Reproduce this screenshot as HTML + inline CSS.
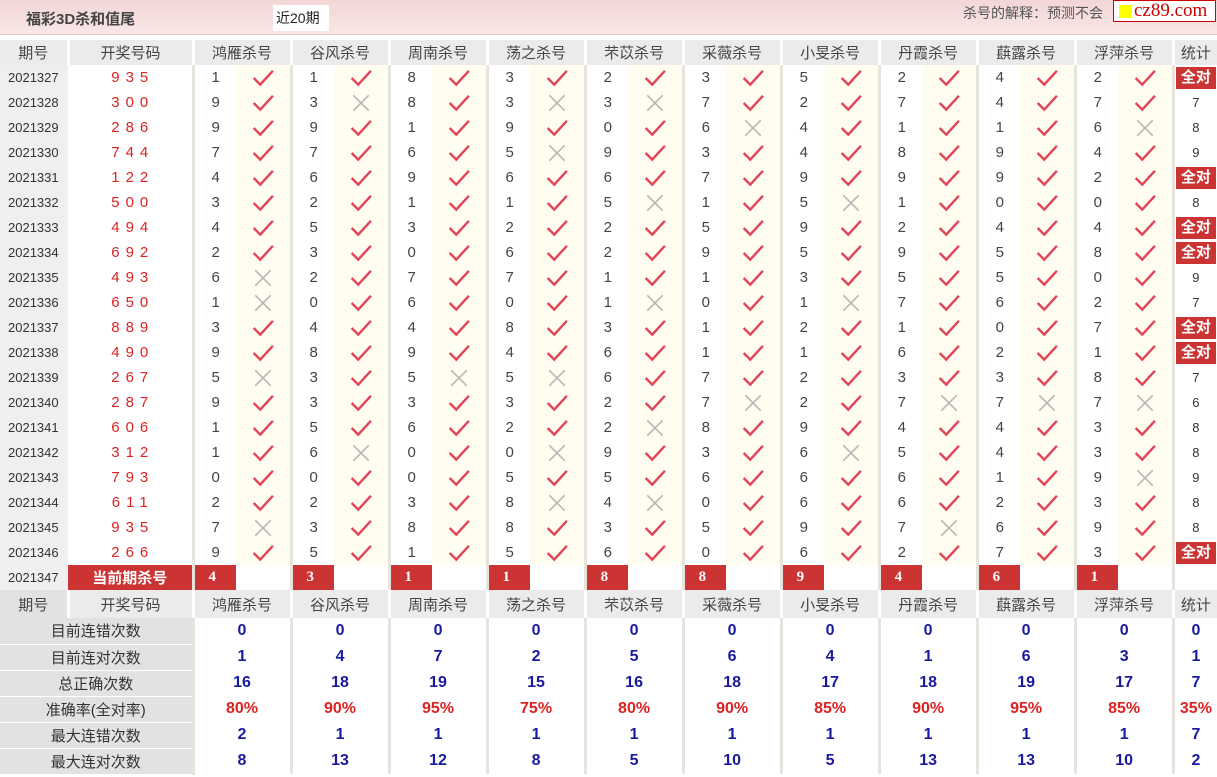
<!DOCTYPE html>
<html><head><meta charset="utf-8">
<style>
*{margin:0;padding:0;box-sizing:border-box}
body{width:1217px;height:777px;background:#fff;font-family:"Liberation Sans","Noto Sans CJK SC",sans-serif;position:relative;overflow:hidden}
.top{position:absolute;left:0;top:0;width:1217px;height:35px;background:linear-gradient(#f3d6d6,#f8e6e6);border-bottom:1px solid #e8c8c8}
.title{position:absolute;left:26px;top:8px;font-size:15px;font-weight:bold;color:#444}
.tab{position:absolute;left:273px;top:5px;width:56px;height:26px;background:#fff;font-size:14px;line-height:26px;padding-left:3px;color:#222}
.exp{position:absolute;left:963px;top:3px;font-size:14px;color:#555}
.logo{position:absolute;left:1113px;top:0;width:103px;height:22px;border:1px solid #c00;background:#fff;font-family:"Liberation Serif",serif;font-size:19px;color:#c00;line-height:19px;padding-left:20px}
.logo i{position:absolute;left:5px;top:4px;width:13px;height:13px;background:#ff0}
table{position:absolute;left:0;top:40px;border-collapse:collapse;table-layout:fixed;width:1217px}
td{padding:0;height:25px;font-size:14px;white-space:nowrap;overflow:hidden}
tr.h td{background:#ebebeb;color:#444;text-align:center;font-size:15px;border-left:3px solid #fff}
tr.h2 td{height:28px}
td.p{background:#efefef;color:#333;padding-left:8px;font-size:13px}
td.d{color:#d22;text-align:center;letter-spacing:6px;font-size:15px;padding-left:6px}
td.n{color:#444;padding-left:17px;border-left:3px solid #e6e4dc;font-size:15px}
td.c{background:#fffdef;text-align:center}
td.c svg{width:22px;height:18px;vertical-align:middle}
td.s{text-align:center;border-left:3px solid #e6e4dc;color:#333;font-size:13px}
td.s b{display:block;margin:1px;background:#cc3333;color:#fff;font-size:15px;line-height:22px}
td.r{border-left:3px solid #e6e4dc}
td.r b{display:block;height:25px;background:#cc3333;color:#fff;font-family:"Liberation Serif",serif;font-size:15px;padding-left:14px;line-height:25px}
td.cl{background:#cc3333;color:#fff;font-weight:bold;text-align:center;font-size:15px}
tr.st td{height:26px;text-align:center;font-weight:bold;color:#1a1aa0;font-size:16px;border-left:3px solid #e6e4dc}
tr.st td.l{background:#e2e2e2;color:#333;font-weight:normal;font-size:15px;border-left:none;border-bottom:1px solid #fff}
tr.st td.rd{color:#d22}
</style></head><body>
<div class="top"><div class="title">福彩3D杀和值尾</div><div class="tab">近20期</div><div class="exp">杀号的解释：预测不会</div><div class="logo"><i></i>cz89.com</div></div>
<svg width="0" height="0" style="position:absolute"><defs>
<symbol id="y" viewBox="0 0 20 16"><path d="M1.5 8 L7.5 14 L19 1.5" stroke="#e0455a" stroke-width="2.2" fill="none"/></symbol>
<symbol id="x" viewBox="0 0 20 16"><path d="M3 1 L17 15 M17 1 L3 15" stroke="#b8b8b8" stroke-width="1.5" fill="none"/></symbol>
</defs></svg>
<table>
<colgroup><col style="width:68px"><col style="width:125px"><col style="width:43px"><col style="width:55px"><col style="width:43px"><col style="width:55px"><col style="width:43px"><col style="width:55px"><col style="width:43px"><col style="width:55px"><col style="width:43px"><col style="width:55px"><col style="width:43px"><col style="width:55px"><col style="width:43px"><col style="width:55px"><col style="width:43px"><col style="width:55px"><col style="width:43px"><col style="width:55px"><col style="width:43px"><col style="width:55px"><col style="width:44px"></colgroup>
<tr class="h"><td style="border-left:none">期号</td><td>开奖号码</td><td colspan="2">鸿雁杀号</td><td colspan="2">谷风杀号</td><td colspan="2">周南杀号</td><td colspan="2">荡之杀号</td><td colspan="2">芣苡杀号</td><td colspan="2">采薇杀号</td><td colspan="2">小旻杀号</td><td colspan="2">丹霞杀号</td><td colspan="2">蕻露杀号</td><td colspan="2">浮萍杀号</td><td>统计</td></tr>
<tr><td class="p">2021327</td><td class="d">935</td><td class="n">1</td><td class="c"><svg><use href="#y"/></svg></td><td class="n">1</td><td class="c"><svg><use href="#y"/></svg></td><td class="n">8</td><td class="c"><svg><use href="#y"/></svg></td><td class="n">3</td><td class="c"><svg><use href="#y"/></svg></td><td class="n">2</td><td class="c"><svg><use href="#y"/></svg></td><td class="n">3</td><td class="c"><svg><use href="#y"/></svg></td><td class="n">5</td><td class="c"><svg><use href="#y"/></svg></td><td class="n">2</td><td class="c"><svg><use href="#y"/></svg></td><td class="n">4</td><td class="c"><svg><use href="#y"/></svg></td><td class="n">2</td><td class="c"><svg><use href="#y"/></svg></td><td class="s"><b>全对</b></td></tr>
<tr><td class="p">2021328</td><td class="d">300</td><td class="n">9</td><td class="c"><svg><use href="#y"/></svg></td><td class="n">3</td><td class="c"><svg><use href="#x"/></svg></td><td class="n">8</td><td class="c"><svg><use href="#y"/></svg></td><td class="n">3</td><td class="c"><svg><use href="#x"/></svg></td><td class="n">3</td><td class="c"><svg><use href="#x"/></svg></td><td class="n">7</td><td class="c"><svg><use href="#y"/></svg></td><td class="n">2</td><td class="c"><svg><use href="#y"/></svg></td><td class="n">7</td><td class="c"><svg><use href="#y"/></svg></td><td class="n">4</td><td class="c"><svg><use href="#y"/></svg></td><td class="n">7</td><td class="c"><svg><use href="#y"/></svg></td><td class="s">7</td></tr>
<tr><td class="p">2021329</td><td class="d">286</td><td class="n">9</td><td class="c"><svg><use href="#y"/></svg></td><td class="n">9</td><td class="c"><svg><use href="#y"/></svg></td><td class="n">1</td><td class="c"><svg><use href="#y"/></svg></td><td class="n">9</td><td class="c"><svg><use href="#y"/></svg></td><td class="n">0</td><td class="c"><svg><use href="#y"/></svg></td><td class="n">6</td><td class="c"><svg><use href="#x"/></svg></td><td class="n">4</td><td class="c"><svg><use href="#y"/></svg></td><td class="n">1</td><td class="c"><svg><use href="#y"/></svg></td><td class="n">1</td><td class="c"><svg><use href="#y"/></svg></td><td class="n">6</td><td class="c"><svg><use href="#x"/></svg></td><td class="s">8</td></tr>
<tr><td class="p">2021330</td><td class="d">744</td><td class="n">7</td><td class="c"><svg><use href="#y"/></svg></td><td class="n">7</td><td class="c"><svg><use href="#y"/></svg></td><td class="n">6</td><td class="c"><svg><use href="#y"/></svg></td><td class="n">5</td><td class="c"><svg><use href="#x"/></svg></td><td class="n">9</td><td class="c"><svg><use href="#y"/></svg></td><td class="n">3</td><td class="c"><svg><use href="#y"/></svg></td><td class="n">4</td><td class="c"><svg><use href="#y"/></svg></td><td class="n">8</td><td class="c"><svg><use href="#y"/></svg></td><td class="n">9</td><td class="c"><svg><use href="#y"/></svg></td><td class="n">4</td><td class="c"><svg><use href="#y"/></svg></td><td class="s">9</td></tr>
<tr><td class="p">2021331</td><td class="d">122</td><td class="n">4</td><td class="c"><svg><use href="#y"/></svg></td><td class="n">6</td><td class="c"><svg><use href="#y"/></svg></td><td class="n">9</td><td class="c"><svg><use href="#y"/></svg></td><td class="n">6</td><td class="c"><svg><use href="#y"/></svg></td><td class="n">6</td><td class="c"><svg><use href="#y"/></svg></td><td class="n">7</td><td class="c"><svg><use href="#y"/></svg></td><td class="n">9</td><td class="c"><svg><use href="#y"/></svg></td><td class="n">9</td><td class="c"><svg><use href="#y"/></svg></td><td class="n">9</td><td class="c"><svg><use href="#y"/></svg></td><td class="n">2</td><td class="c"><svg><use href="#y"/></svg></td><td class="s"><b>全对</b></td></tr>
<tr><td class="p">2021332</td><td class="d">500</td><td class="n">3</td><td class="c"><svg><use href="#y"/></svg></td><td class="n">2</td><td class="c"><svg><use href="#y"/></svg></td><td class="n">1</td><td class="c"><svg><use href="#y"/></svg></td><td class="n">1</td><td class="c"><svg><use href="#y"/></svg></td><td class="n">5</td><td class="c"><svg><use href="#x"/></svg></td><td class="n">1</td><td class="c"><svg><use href="#y"/></svg></td><td class="n">5</td><td class="c"><svg><use href="#x"/></svg></td><td class="n">1</td><td class="c"><svg><use href="#y"/></svg></td><td class="n">0</td><td class="c"><svg><use href="#y"/></svg></td><td class="n">0</td><td class="c"><svg><use href="#y"/></svg></td><td class="s">8</td></tr>
<tr><td class="p">2021333</td><td class="d">494</td><td class="n">4</td><td class="c"><svg><use href="#y"/></svg></td><td class="n">5</td><td class="c"><svg><use href="#y"/></svg></td><td class="n">3</td><td class="c"><svg><use href="#y"/></svg></td><td class="n">2</td><td class="c"><svg><use href="#y"/></svg></td><td class="n">2</td><td class="c"><svg><use href="#y"/></svg></td><td class="n">5</td><td class="c"><svg><use href="#y"/></svg></td><td class="n">9</td><td class="c"><svg><use href="#y"/></svg></td><td class="n">2</td><td class="c"><svg><use href="#y"/></svg></td><td class="n">4</td><td class="c"><svg><use href="#y"/></svg></td><td class="n">4</td><td class="c"><svg><use href="#y"/></svg></td><td class="s"><b>全对</b></td></tr>
<tr><td class="p">2021334</td><td class="d">692</td><td class="n">2</td><td class="c"><svg><use href="#y"/></svg></td><td class="n">3</td><td class="c"><svg><use href="#y"/></svg></td><td class="n">0</td><td class="c"><svg><use href="#y"/></svg></td><td class="n">6</td><td class="c"><svg><use href="#y"/></svg></td><td class="n">2</td><td class="c"><svg><use href="#y"/></svg></td><td class="n">9</td><td class="c"><svg><use href="#y"/></svg></td><td class="n">5</td><td class="c"><svg><use href="#y"/></svg></td><td class="n">9</td><td class="c"><svg><use href="#y"/></svg></td><td class="n">5</td><td class="c"><svg><use href="#y"/></svg></td><td class="n">8</td><td class="c"><svg><use href="#y"/></svg></td><td class="s"><b>全对</b></td></tr>
<tr><td class="p">2021335</td><td class="d">493</td><td class="n">6</td><td class="c"><svg><use href="#x"/></svg></td><td class="n">2</td><td class="c"><svg><use href="#y"/></svg></td><td class="n">7</td><td class="c"><svg><use href="#y"/></svg></td><td class="n">7</td><td class="c"><svg><use href="#y"/></svg></td><td class="n">1</td><td class="c"><svg><use href="#y"/></svg></td><td class="n">1</td><td class="c"><svg><use href="#y"/></svg></td><td class="n">3</td><td class="c"><svg><use href="#y"/></svg></td><td class="n">5</td><td class="c"><svg><use href="#y"/></svg></td><td class="n">5</td><td class="c"><svg><use href="#y"/></svg></td><td class="n">0</td><td class="c"><svg><use href="#y"/></svg></td><td class="s">9</td></tr>
<tr><td class="p">2021336</td><td class="d">650</td><td class="n">1</td><td class="c"><svg><use href="#x"/></svg></td><td class="n">0</td><td class="c"><svg><use href="#y"/></svg></td><td class="n">6</td><td class="c"><svg><use href="#y"/></svg></td><td class="n">0</td><td class="c"><svg><use href="#y"/></svg></td><td class="n">1</td><td class="c"><svg><use href="#x"/></svg></td><td class="n">0</td><td class="c"><svg><use href="#y"/></svg></td><td class="n">1</td><td class="c"><svg><use href="#x"/></svg></td><td class="n">7</td><td class="c"><svg><use href="#y"/></svg></td><td class="n">6</td><td class="c"><svg><use href="#y"/></svg></td><td class="n">2</td><td class="c"><svg><use href="#y"/></svg></td><td class="s">7</td></tr>
<tr><td class="p">2021337</td><td class="d">889</td><td class="n">3</td><td class="c"><svg><use href="#y"/></svg></td><td class="n">4</td><td class="c"><svg><use href="#y"/></svg></td><td class="n">4</td><td class="c"><svg><use href="#y"/></svg></td><td class="n">8</td><td class="c"><svg><use href="#y"/></svg></td><td class="n">3</td><td class="c"><svg><use href="#y"/></svg></td><td class="n">1</td><td class="c"><svg><use href="#y"/></svg></td><td class="n">2</td><td class="c"><svg><use href="#y"/></svg></td><td class="n">1</td><td class="c"><svg><use href="#y"/></svg></td><td class="n">0</td><td class="c"><svg><use href="#y"/></svg></td><td class="n">7</td><td class="c"><svg><use href="#y"/></svg></td><td class="s"><b>全对</b></td></tr>
<tr><td class="p">2021338</td><td class="d">490</td><td class="n">9</td><td class="c"><svg><use href="#y"/></svg></td><td class="n">8</td><td class="c"><svg><use href="#y"/></svg></td><td class="n">9</td><td class="c"><svg><use href="#y"/></svg></td><td class="n">4</td><td class="c"><svg><use href="#y"/></svg></td><td class="n">6</td><td class="c"><svg><use href="#y"/></svg></td><td class="n">1</td><td class="c"><svg><use href="#y"/></svg></td><td class="n">1</td><td class="c"><svg><use href="#y"/></svg></td><td class="n">6</td><td class="c"><svg><use href="#y"/></svg></td><td class="n">2</td><td class="c"><svg><use href="#y"/></svg></td><td class="n">1</td><td class="c"><svg><use href="#y"/></svg></td><td class="s"><b>全对</b></td></tr>
<tr><td class="p">2021339</td><td class="d">267</td><td class="n">5</td><td class="c"><svg><use href="#x"/></svg></td><td class="n">3</td><td class="c"><svg><use href="#y"/></svg></td><td class="n">5</td><td class="c"><svg><use href="#x"/></svg></td><td class="n">5</td><td class="c"><svg><use href="#x"/></svg></td><td class="n">6</td><td class="c"><svg><use href="#y"/></svg></td><td class="n">7</td><td class="c"><svg><use href="#y"/></svg></td><td class="n">2</td><td class="c"><svg><use href="#y"/></svg></td><td class="n">3</td><td class="c"><svg><use href="#y"/></svg></td><td class="n">3</td><td class="c"><svg><use href="#y"/></svg></td><td class="n">8</td><td class="c"><svg><use href="#y"/></svg></td><td class="s">7</td></tr>
<tr><td class="p">2021340</td><td class="d">287</td><td class="n">9</td><td class="c"><svg><use href="#y"/></svg></td><td class="n">3</td><td class="c"><svg><use href="#y"/></svg></td><td class="n">3</td><td class="c"><svg><use href="#y"/></svg></td><td class="n">3</td><td class="c"><svg><use href="#y"/></svg></td><td class="n">2</td><td class="c"><svg><use href="#y"/></svg></td><td class="n">7</td><td class="c"><svg><use href="#x"/></svg></td><td class="n">2</td><td class="c"><svg><use href="#y"/></svg></td><td class="n">7</td><td class="c"><svg><use href="#x"/></svg></td><td class="n">7</td><td class="c"><svg><use href="#x"/></svg></td><td class="n">7</td><td class="c"><svg><use href="#x"/></svg></td><td class="s">6</td></tr>
<tr><td class="p">2021341</td><td class="d">606</td><td class="n">1</td><td class="c"><svg><use href="#y"/></svg></td><td class="n">5</td><td class="c"><svg><use href="#y"/></svg></td><td class="n">6</td><td class="c"><svg><use href="#y"/></svg></td><td class="n">2</td><td class="c"><svg><use href="#y"/></svg></td><td class="n">2</td><td class="c"><svg><use href="#x"/></svg></td><td class="n">8</td><td class="c"><svg><use href="#y"/></svg></td><td class="n">9</td><td class="c"><svg><use href="#y"/></svg></td><td class="n">4</td><td class="c"><svg><use href="#y"/></svg></td><td class="n">4</td><td class="c"><svg><use href="#y"/></svg></td><td class="n">3</td><td class="c"><svg><use href="#y"/></svg></td><td class="s">8</td></tr>
<tr><td class="p">2021342</td><td class="d">312</td><td class="n">1</td><td class="c"><svg><use href="#y"/></svg></td><td class="n">6</td><td class="c"><svg><use href="#x"/></svg></td><td class="n">0</td><td class="c"><svg><use href="#y"/></svg></td><td class="n">0</td><td class="c"><svg><use href="#x"/></svg></td><td class="n">9</td><td class="c"><svg><use href="#y"/></svg></td><td class="n">3</td><td class="c"><svg><use href="#y"/></svg></td><td class="n">6</td><td class="c"><svg><use href="#x"/></svg></td><td class="n">5</td><td class="c"><svg><use href="#y"/></svg></td><td class="n">4</td><td class="c"><svg><use href="#y"/></svg></td><td class="n">3</td><td class="c"><svg><use href="#y"/></svg></td><td class="s">8</td></tr>
<tr><td class="p">2021343</td><td class="d">793</td><td class="n">0</td><td class="c"><svg><use href="#y"/></svg></td><td class="n">0</td><td class="c"><svg><use href="#y"/></svg></td><td class="n">0</td><td class="c"><svg><use href="#y"/></svg></td><td class="n">5</td><td class="c"><svg><use href="#y"/></svg></td><td class="n">5</td><td class="c"><svg><use href="#y"/></svg></td><td class="n">6</td><td class="c"><svg><use href="#y"/></svg></td><td class="n">6</td><td class="c"><svg><use href="#y"/></svg></td><td class="n">6</td><td class="c"><svg><use href="#y"/></svg></td><td class="n">1</td><td class="c"><svg><use href="#y"/></svg></td><td class="n">9</td><td class="c"><svg><use href="#x"/></svg></td><td class="s">9</td></tr>
<tr><td class="p">2021344</td><td class="d">611</td><td class="n">2</td><td class="c"><svg><use href="#y"/></svg></td><td class="n">2</td><td class="c"><svg><use href="#y"/></svg></td><td class="n">3</td><td class="c"><svg><use href="#y"/></svg></td><td class="n">8</td><td class="c"><svg><use href="#x"/></svg></td><td class="n">4</td><td class="c"><svg><use href="#x"/></svg></td><td class="n">0</td><td class="c"><svg><use href="#y"/></svg></td><td class="n">6</td><td class="c"><svg><use href="#y"/></svg></td><td class="n">6</td><td class="c"><svg><use href="#y"/></svg></td><td class="n">2</td><td class="c"><svg><use href="#y"/></svg></td><td class="n">3</td><td class="c"><svg><use href="#y"/></svg></td><td class="s">8</td></tr>
<tr><td class="p">2021345</td><td class="d">935</td><td class="n">7</td><td class="c"><svg><use href="#x"/></svg></td><td class="n">3</td><td class="c"><svg><use href="#y"/></svg></td><td class="n">8</td><td class="c"><svg><use href="#y"/></svg></td><td class="n">8</td><td class="c"><svg><use href="#y"/></svg></td><td class="n">3</td><td class="c"><svg><use href="#y"/></svg></td><td class="n">5</td><td class="c"><svg><use href="#y"/></svg></td><td class="n">9</td><td class="c"><svg><use href="#y"/></svg></td><td class="n">7</td><td class="c"><svg><use href="#x"/></svg></td><td class="n">6</td><td class="c"><svg><use href="#y"/></svg></td><td class="n">9</td><td class="c"><svg><use href="#y"/></svg></td><td class="s">8</td></tr>
<tr><td class="p">2021346</td><td class="d">266</td><td class="n">9</td><td class="c"><svg><use href="#y"/></svg></td><td class="n">5</td><td class="c"><svg><use href="#y"/></svg></td><td class="n">1</td><td class="c"><svg><use href="#y"/></svg></td><td class="n">5</td><td class="c"><svg><use href="#y"/></svg></td><td class="n">6</td><td class="c"><svg><use href="#y"/></svg></td><td class="n">0</td><td class="c"><svg><use href="#y"/></svg></td><td class="n">6</td><td class="c"><svg><use href="#y"/></svg></td><td class="n">2</td><td class="c"><svg><use href="#y"/></svg></td><td class="n">7</td><td class="c"><svg><use href="#y"/></svg></td><td class="n">3</td><td class="c"><svg><use href="#y"/></svg></td><td class="s"><b>全对</b></td></tr>
<tr><td class="p">2021347</td><td class="cl">当前期杀号</td><td class="r"><b>4</b></td><td></td><td class="r"><b>3</b></td><td></td><td class="r"><b>1</b></td><td></td><td class="r"><b>1</b></td><td></td><td class="r"><b>8</b></td><td></td><td class="r"><b>8</b></td><td></td><td class="r"><b>9</b></td><td></td><td class="r"><b>4</b></td><td></td><td class="r"><b>6</b></td><td></td><td class="r"><b>1</b></td><td></td><td class="s"></td></tr>
<tr class="h h2"><td style="border-left:none;background:#e2e2e2">期号</td><td>开奖号码</td><td colspan="2">鸿雁杀号</td><td colspan="2">谷风杀号</td><td colspan="2">周南杀号</td><td colspan="2">荡之杀号</td><td colspan="2">芣苡杀号</td><td colspan="2">采薇杀号</td><td colspan="2">小旻杀号</td><td colspan="2">丹霞杀号</td><td colspan="2">蕻露杀号</td><td colspan="2">浮萍杀号</td><td>统计</td></tr>
<tr class="st"><td class="l" colspan="2">目前连错次数</td><td colspan="2">0</td><td colspan="2">0</td><td colspan="2">0</td><td colspan="2">0</td><td colspan="2">0</td><td colspan="2">0</td><td colspan="2">0</td><td colspan="2">0</td><td colspan="2">0</td><td colspan="2">0</td><td>0</td></tr>
<tr class="st"><td class="l" colspan="2">目前连对次数</td><td colspan="2">1</td><td colspan="2">4</td><td colspan="2">7</td><td colspan="2">2</td><td colspan="2">5</td><td colspan="2">6</td><td colspan="2">4</td><td colspan="2">1</td><td colspan="2">6</td><td colspan="2">3</td><td>1</td></tr>
<tr class="st"><td class="l" colspan="2">总正确次数</td><td colspan="2">16</td><td colspan="2">18</td><td colspan="2">19</td><td colspan="2">15</td><td colspan="2">16</td><td colspan="2">18</td><td colspan="2">17</td><td colspan="2">18</td><td colspan="2">19</td><td colspan="2">17</td><td>7</td></tr>
<tr class="st"><td class="l" colspan="2">准确率(全对率)</td><td colspan="2" class="rd">80%</td><td colspan="2" class="rd">90%</td><td colspan="2" class="rd">95%</td><td colspan="2" class="rd">75%</td><td colspan="2" class="rd">80%</td><td colspan="2" class="rd">90%</td><td colspan="2" class="rd">85%</td><td colspan="2" class="rd">90%</td><td colspan="2" class="rd">95%</td><td colspan="2" class="rd">85%</td><td class="rd">35%</td></tr>
<tr class="st"><td class="l" colspan="2">最大连错次数</td><td colspan="2">2</td><td colspan="2">1</td><td colspan="2">1</td><td colspan="2">1</td><td colspan="2">1</td><td colspan="2">1</td><td colspan="2">1</td><td colspan="2">1</td><td colspan="2">1</td><td colspan="2">1</td><td>7</td></tr>
<tr class="st"><td class="l" colspan="2">最大连对次数</td><td colspan="2">8</td><td colspan="2">13</td><td colspan="2">12</td><td colspan="2">8</td><td colspan="2">5</td><td colspan="2">10</td><td colspan="2">5</td><td colspan="2">13</td><td colspan="2">13</td><td colspan="2">10</td><td>2</td></tr>
</table>
</body></html>
